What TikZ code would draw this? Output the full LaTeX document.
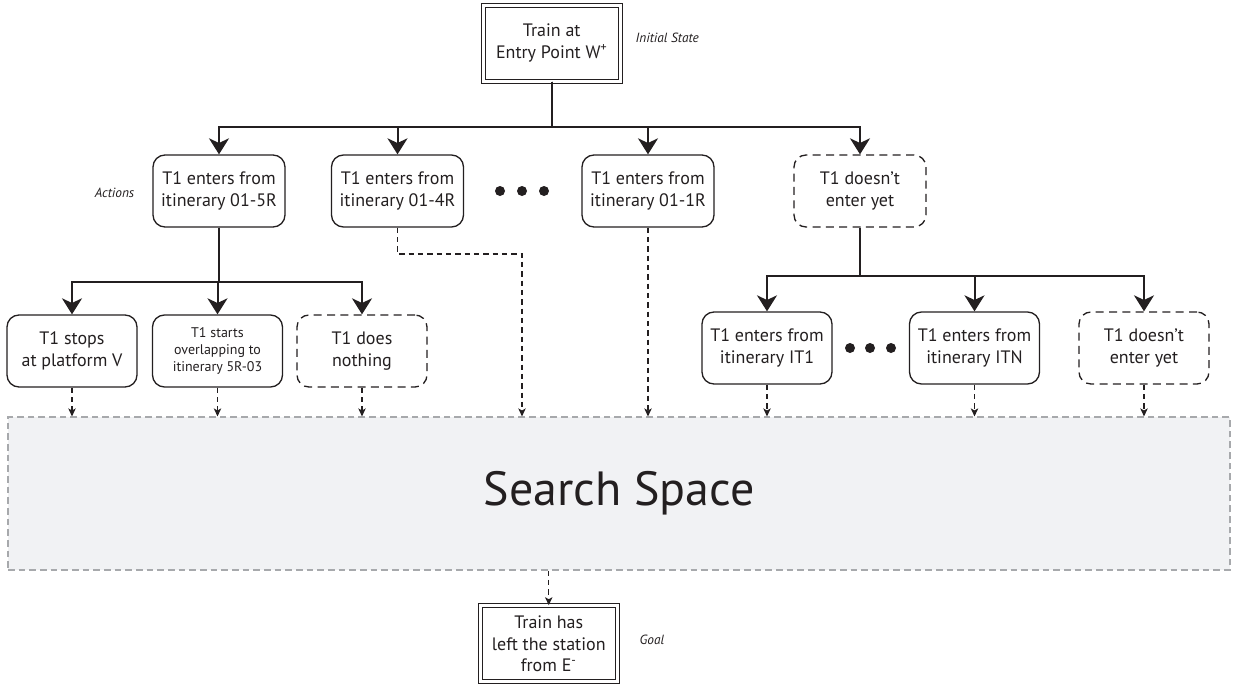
\documentclass[tikz,border=0pt]{standalone}
\usepackage{fontspec}
\setmainfont{PT Sans}
\usetikzlibrary{arrows.meta}
\definecolor{ink}{HTML}{231F20}
\definecolor{ssfill}{HTML}{F1F2F4}
\definecolor{ssline}{HTML}{A7A9AC}
\begin{document}
\begin{tikzpicture}[x=0.75pt,y=-0.75pt,
  every node/.style={text=ink},
  box/.style={draw=ink, rounded corners=9pt, line width=1pt, minimum width=99pt, minimum height=54pt,
    align=center, inner sep=2pt, font=\fontsize{13.5}{16}\selectfont},
  lowbox/.style={box, minimum width=97.5pt},
  dbox/.style={dash pattern=on 6pt off 4pt},
  state/.style={draw=ink, double, line width=0.75pt, double distance=2.25pt, minimum width=103pt,
    minimum height=57pt, align=center, inner sep=2pt, font=\fontsize{13.5}{16}\selectfont},
  note/.style={font=\itshape\fontsize{10}{12}\selectfont},
  tree/.style={draw=ink, line width=1.5pt, -{Stealth[length=12pt,width=15pt,inset=3.5pt]}},
  flow/.style={draw=ink, line width=1.1pt, dash pattern=on 4pt off 3pt, -{Stealth[length=6pt,width=5.5pt,inset=1.5pt]}},
  dotmark/.style={fill=ink}
]
\useasboundingbox (0,0) rectangle (1236,689);

% search space
\node[draw=ssline, fill=ssfill, line width=0.8pt, dash pattern=on 5pt off 3pt,
  minimum width=916.5pt, minimum height=114.75pt, inner sep=0pt,
  font=\fontsize{36}{40}\selectfont] (ss) at (619,493.5) {Search Space};

% initial state
\node[state] (top) at (551.75,43) {Train at\\Entry Point W\textsuperscript{+}};
\node[note, anchor=west] (initlab) at (631,38) {Initial State};

% level 1
\node[box] (A) at (219,191) {T1 enters from\\itinerary 01-5R};
\node[box] (B) at (397.5,191) {T1 enters from\\itinerary 01-4R};
\node[box] (C) at (648,191) {T1 enters from\\itinerary 01-1R};
\node[box, dbox] (D) at (860,191) {T1 doesn’t\\enter yet};
\node[note, anchor=east] (actlab) at (139,193) {Actions};
\fill[dotmark] (500,191) circle (5) (522,191) circle (5) (544,191) circle (5);

% level 2 left
\node[lowbox] (E) at (72,351) {T1 stops\\at platform V};
\node[lowbox, font=\fontsize{10.5}{12.5}\selectfont] (F) at (217.5,351) {T1 starts\\overlapping to\\itinerary 5R-03};
\node[lowbox, dbox] (G) at (362,351) {T1 does\\nothing};

% level 2 right
\node[lowbox] (H) at (767,348) {T1 enters from\\itinerary IT1};
\node[lowbox] (I) at (974.5,348) {T1 enters from\\itinerary ITN};
\node[lowbox, dbox] (J) at (1144,348) {T1 doesn’t\\enter yet};
\fill[dotmark] (850,348) circle (5) (870,348) circle (5) (891,348) circle (5);

% goal
\node[state] (goal) at (548.75,643.75) {Train has\\left the station\\from E\textsuperscript{-}};
\node[note, anchor=west] (goallab) at (635,640) {Goal};

% junctions
\coordinate (j1) at (551.75,127);
\coordinate (j2) at (219,282);
\coordinate (j3) at (860,276);
\coordinate (bturn) at (522,254);

% tree arrows
\foreach \n in {A,B,C,D} \draw[tree] (top.south) -- (top.south |- j1) -| (\n.north);
\foreach \n in {E,F,G} \draw[tree] (A.south) -- (A.south |- j2) -| (\n.north);
\foreach \n in {H,I,J} \draw[tree] (D.south) -- (D.south |- j3) -| (\n.north);

% flows into search space
\foreach \n in {E,F,G,C,H,I,J} \draw[flow] (\n.south) -- (\n.south |- ss.north);
\draw[flow] (B.south) |- (bturn) -- (bturn |- ss.north);
\draw[flow] (goal.north |- ss.south) -- (goal.north);
\end{tikzpicture}
\end{document}
